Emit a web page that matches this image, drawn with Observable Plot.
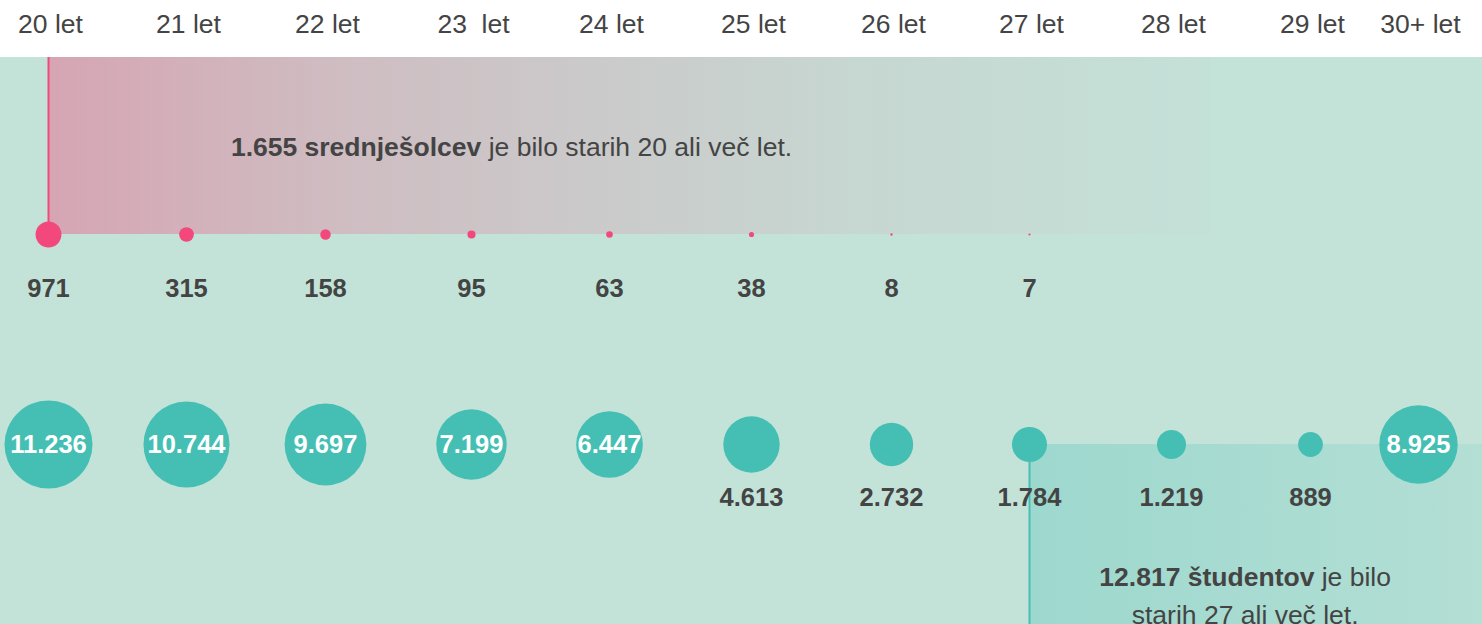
<!DOCTYPE html>
<html>
<head>
<meta charset="utf-8">
<script src="https://cdn.jsdelivr.net/npm/d3@7"></script>
<script src="https://cdn.jsdelivr.net/npm/@observablehq/plot@0.6"></script>
<style>
  html, body { margin: 0; padding: 0; background: #fff; overflow: hidden; }
  svg { overflow: hidden; }
  svg text { white-space: pre; }
</style>
</head>
<body>
<div id="chart"></div>
<script>
// ---- data ----
const ages = [20, 21, 22, 23, 24, 25, 26, 27, 28, 29, 30];
const ageLabels = ["20 let", "21 let", "22 let", "23  let", "24 let", "25 let", "26 let", "27 let", "28 let", "29 let", "30+ let"];
const secondaryAges = [20, 21, 22, 23, 24, 25, 26, 27];
const secondaryCounts = [971, 315, 158, 95, 63, 38, 8, 7];
const studentCounts = [11236, 10744, 9697, 7199, 6447, 4613, 2732, 1784, 1219, 889, 8925];
const secondaryFromAge = 20;
const studentsFromAge = 27;

// ---- layout / style ----
const W = 1482, H = 624;
const xRange = [48, 186, 325, 471, 609, 751, 891, 1029, 1171, 1310, 1418];
const L = { headerY: 24, bandTop: 57, note1Y: 147, pinkY: 234, pinkLabelY: 288,
            tealY: 444, tealLabelY: 497, note2Y: 592, note1X: 23.29, note2X: 28.53,
            pinkEnd: 28.28, tealEnd: 30.7 };
const PINK = "#f2487b", TEAL = "#45bfb4", BG = "#c3e3d9", INK = "#444444";
const FONT = "'Liberation Sans', Arial, Helvetica, sans-serif";

const fmt = d3.formatLocale({decimal: ",", thousands: ".", grouping: [3], currency: ["", " €"]}).format(",d");

const secTotal = d3.sum(secondaryCounts.filter((v, i) => secondaryAges[i] >= secondaryFromAge));
const studTotal = d3.sum(studentCounts.filter((v, i) => ages[i] >= studentsFromAge));
const bold1 = `${fmt(secTotal)} srednješolcev`;
const note1 = `${bold1} je bilo starih ${secondaryFromAge} ali več let.`;
const bold2 = `${fmt(studTotal)} študentov`;
const note2 = `${bold2} je bilo\nstarih ${studentsFromAge} ali več let.`;

const students = ages.map((a, i) => ({age: a, v: studentCounts[i]}));
const secondary = secondaryAges.map((a, i) => ({age: a, v: secondaryCounts[i]}));

const chart = Plot.plot({
  width: W, height: H,
  marginTop: 0, marginRight: 0, marginBottom: 0, marginLeft: 0,
  style: {fontFamily: FONT, background: "#fff"},
  x: {type: "linear", domain: ages, range: xRange, axis: null},
  y: {type: "linear", domain: [0, H], range: [0, H], axis: null},
  r: {type: "sqrt", domain: [0, d3.max(studentCounts)], range: [0, 44]},
  marks: [
    Plot.rect([0], {x1: 19, x2: 31, y1: L.bandTop, y2: H, fill: BG}),
    Plot.rect([secondaryFromAge], {x1: d => d, x2: L.pinkEnd, y1: L.bandTop, y2: L.pinkY, fill: "url(#pinkFade)"}),
    Plot.ruleX([secondaryFromAge], {x: d => d, y1: L.bandTop, y2: L.pinkY, stroke: PINK, strokeWidth: 2}),
    Plot.rect([studentsFromAge], {x1: d => d, x2: L.tealEnd, y1: L.tealY, y2: H, fill: "url(#tealFade)"}),
    Plot.ruleX([studentsFromAge], {x: d => d, y1: L.tealY, y2: H, stroke: TEAL, strokeWidth: 2}),
    Plot.text(ages, {x: d => d, y: L.headerY, dx: 2, text: (d, i) => ageLabels[i], fontSize: 26.5, fill: INK}),
    Plot.text([note1], {x: L.note1X, y: L.note1Y, text: d => d, fontSize: 26.5, fill: INK}),
    Plot.dot(secondary, {x: "age", y: L.pinkY, r: "v", fill: PINK}),
    Plot.text(secondary, {x: "age", y: L.pinkLabelY, text: d => fmt(d.v), fontSize: 25.5, fontWeight: "bold", fill: INK}),
    Plot.dot(students, {x: "age", y: L.tealY, r: "v", fill: TEAL}),
    Plot.text(students.filter(d => d.v > 5000), {x: "age", y: L.tealY, text: d => fmt(d.v), fontSize: 25.5, fontWeight: "bold", fill: "#fff"}),
    Plot.text(students.filter(d => d.v <= 5000), {x: "age", y: L.tealLabelY, text: d => fmt(d.v), fontSize: 25.5, fontWeight: "bold", fill: INK}),
    Plot.text([note2], {x: L.note2X, y: L.note2Y, text: d => d, fontSize: 26.5, lineHeight: 1.45, fill: INK})
  ]
});

// gradients
const defs = document.createElementNS("http://www.w3.org/2000/svg", "defs");
defs.innerHTML = `
<linearGradient id="pinkFade" x1="0" x2="1" y1="0" y2="0">
  <stop offset="0" stop-color="${PINK}" stop-opacity="0.40"/>
  <stop offset="0.245" stop-color="${PINK}" stop-opacity="0.25"/>
  <stop offset="0.475" stop-color="${PINK}" stop-opacity="0.16"/>
  <stop offset="0.69" stop-color="${PINK}" stop-opacity="0.08"/>
  <stop offset="1" stop-color="${PINK}" stop-opacity="0.015"/>
</linearGradient>
<linearGradient id="tealFade" x1="0" x2="1" y1="0" y2="0">
  <stop offset="0" stop-color="${TEAL}" stop-opacity="0.30"/>
  <stop offset="1" stop-color="${TEAL}" stop-opacity="0.12"/>
</linearGradient>`;
chart.insertBefore(defs, chart.firstChild);

// bold prefixes in the notes
chart.querySelectorAll("text, tspan").forEach(el => {
  if (el.childNodes.length !== 1 || el.firstChild.nodeType !== 3) return;
  const s = el.firstChild.data;
  for (const b of [bold1, bold2]) {
    if (s.startsWith(b)) {
      el.textContent = "";
      const t = document.createElementNS("http://www.w3.org/2000/svg", "tspan");
      t.setAttribute("font-weight", "bold");
      t.textContent = b;
      el.appendChild(t);
      el.appendChild(document.createTextNode(s.slice(b.length)));
    }
  }
});

document.getElementById("chart").appendChild(chart);
</script>
</body>
</html>
